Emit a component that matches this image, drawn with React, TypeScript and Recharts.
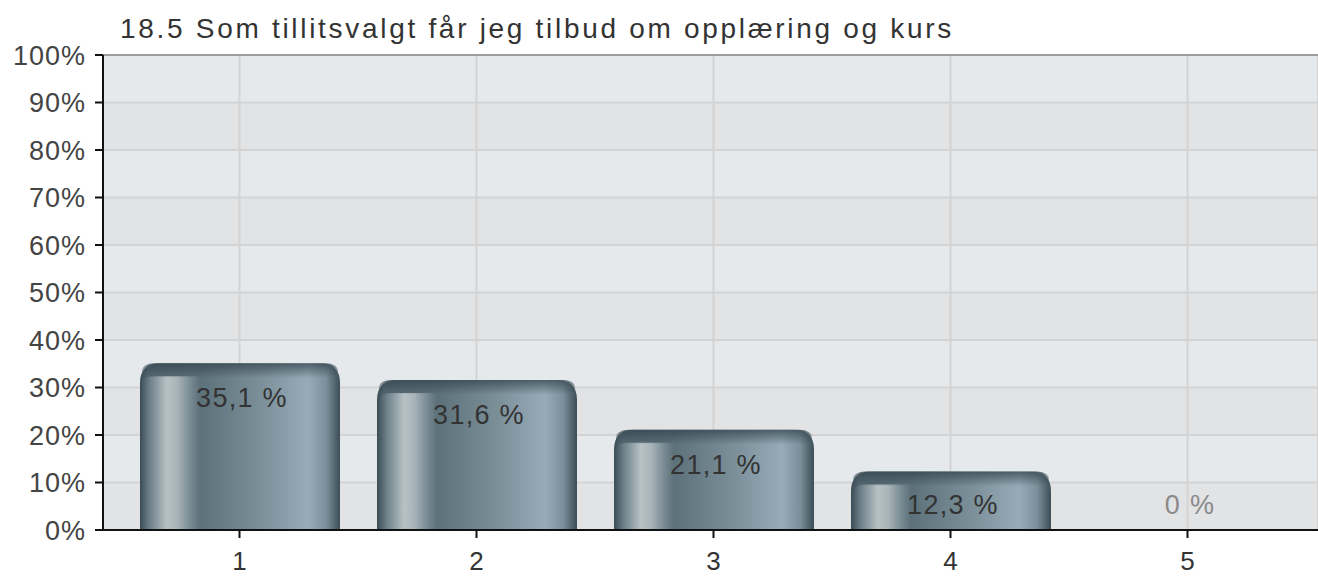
import React from 'react';
import { BarChart, Bar, XAxis, YAxis, CartesianGrid, LabelList, ReferenceLine } from 'recharts';

const categories = ['1', '2', '3', '4', '5'];
const values = [35.1, 31.6, 21.1, 12.3, 0];
const yTicks = [0, 10, 20, 30, 40, 50, 60, 70, 80, 90, 100];
const title = '18.5 Som tillitsvalgt får jeg tilbud om opplæring og kurs';

const data = categories.map((c, i) => ({ name: c, value: values[i] }));

const FONT = '"Liberation Sans", Arial, Helvetica, sans-serif';

const fmt = (v: number) => (v === 0 ? '0 %' : v.toFixed(1).replace('.', ',') + ' %');

const BarShape = (props: any) => {
  const { x, y, width, height, index } = props;
  if (!height || height <= 0) return null;
  const r = Math.min(20, height, width / 2);
  const id = `b${index}`;
  const path = `M${x},${y + height} L${x},${y + r} Q${x},${y} ${x + r},${y} L${x + width - r},${y} Q${x + width},${y} ${x + width},${y + r} L${x + width},${y + height} Z`;
  const capH = 13;
  const pw = width * 0.3;
  const py = y + capH;
  const ph = height - capH;
  const pr = Math.min(14, ph, pw / 2);
  const panel =
    ph > 0
      ? `M${x},${py + ph} L${x},${py + pr} Q${x},${py} ${x + pr},${py} L${x + pw},${py} L${x + pw},${py + ph} Z`
      : '';
  return (
    <g>
      <defs>
        <linearGradient id={`${id}m`} x1="0" y1="0" x2="1" y2="0">
          <stop offset="0" stopColor="#3a4c56" />
          <stop offset="0.04" stopColor="#566973" />
          <stop offset="0.3" stopColor="#5d717b" />
          <stop offset="0.6" stopColor="#7b8f99" />
          <stop offset="0.84" stopColor="#97acb8" />
          <stop offset="0.93" stopColor="#7b909b" />
          <stop offset="1" stopColor="#3c4e58" />
        </linearGradient>
        <linearGradient id={`${id}p`} x1="0" y1="0" x2="1" y2="0">
          <stop offset="0" stopColor="#3a4c56" />
          <stop offset="0.15" stopColor="#6a7d86" />
          <stop offset="0.45" stopColor="#b8c2c5" />
          <stop offset="0.62" stopColor="#a8b4b9" />
          <stop offset="0.85" stopColor="#768891" />
          <stop offset="1" stopColor="#5d717b" />
        </linearGradient>
        <linearGradient id={`${id}c`} x1="0" y1="0" x2="0" y2="1">
          <stop offset="0" stopColor="#33454e" stopOpacity="0.75" />
          <stop offset="1" stopColor="#33454e" stopOpacity="0" />
        </linearGradient>
      </defs>
      <path d={path} fill={`url(#${id}m)`} />
      {panel && <path d={panel} fill={`url(#${id}p)`} />}
      <rect x={x + 2} y={y} width={width - 4} height={Math.min(capH + 2, height)} fill={`url(#${id}c)`} rx={Math.min(12, r)} />
    </g>
  );
};

const ValueLabel = (props: any) => {
  const { x, y, width, height, value } = props;
  const cx = x + width / 2 + 2;
  const ty = Math.min(y + 35, y + height - 25);
  return (
    <text
      x={cx}
      y={ty}
      textAnchor="middle"
      dominantBaseline="central"
      fontFamily={FONT}
      fontSize={27}
      letterSpacing={1.3}
      fill={value === 0 ? '#8a8a8a' : '#333'}
    >
      {fmt(value)}
    </text>
  );
};

export default function App() {
  return (
    <div style={{ position: 'fixed', left: 0, top: 0, width: 1318, height: 578, overflow: 'hidden', background: '#fff' }}>
      <div
        style={{
          position: 'absolute',
          left: 120,
          top: 15,
          fontFamily: FONT,
          fontSize: 28,
          lineHeight: '28px',
          letterSpacing: '2.7px',
          color: '#333',
          whiteSpace: 'nowrap',
        }}
      >
        {title}
      </div>
      <BarChart
        width={1318}
        height={578}
        data={data}
        margin={{ top: 55, right: 0, bottom: 8, left: 0 }}
        barSize={200}
      >
        <CartesianGrid
          stroke="#d3d3d3"
          strokeWidth={2}
          horizontalFill={['#e6e9ec', '#e2e3e5']}
          fillOpacity={1}
        />
        <ReferenceLine y={100} stroke="#9c9c9c" strokeWidth={2} />
        <XAxis
          dataKey="name"
          height={40}
          padding={{ left: 18, right: 12 }}
          axisLine={{ stroke: '#111', strokeWidth: 2 }}
          tickLine={{ stroke: '#111', strokeWidth: 2 }}
          tickSize={8}
          tickMargin={14}
          tick={{ fontFamily: FONT, fontSize: 26, fill: '#333' }}
        />
        <YAxis
          width={103}
          domain={[0, 100]}
          ticks={yTicks}
          interval={0}
          tickFormatter={(v: number) => `${v}%`}
          axisLine={{ stroke: '#111', strokeWidth: 2 }}
          tickLine={{ stroke: '#111', strokeWidth: 2 }}
          tickSize={8}
          tickMargin={9}
          tick={{ fontFamily: FONT, fontSize: 27, fill: '#444', letterSpacing: 1 }}
        />
        <Bar dataKey="value" isAnimationActive={false} shape={<BarShape />}>
          <LabelList dataKey="value" content={<ValueLabel />} />
        </Bar>
      </BarChart>
    </div>
  );
}
